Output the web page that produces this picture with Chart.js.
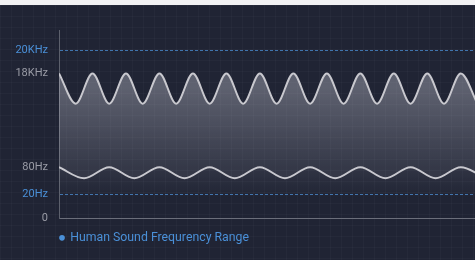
<!DOCTYPE html>
<html>
<head>
<meta charset="utf-8">
<title>Human Sound Frequency Range</title>
<script src="https://cdn.jsdelivr.net/npm/chart.js@4.4.1/dist/chart.umd.min.js"></script>
<style>
  html, body { margin: 0; padding: 0; background: #f2f2f4; }
  #wrap {
    position: absolute; left: 0; top: 5px; width: 475px; height: 255px;
    background-color: #202434;
    background-image:
      linear-gradient(rgba(255,255,255,0.025) 1px, transparent 1px),
      linear-gradient(90deg, rgba(255,255,255,0.025) 1px, transparent 1px);
    background-size: 11px 11px;
  }
</style>
</head>
<body>
<div id="wrap"><canvas id="chart" width="475" height="255"></canvas></div>
<script>
// --- data ---
const seriesName = 'Human Sound Frequrency Range';

// y axis is not linear in Hz, so values are kept in "level" units of the axis
const yTickValues = [0, 24, 51, 144, 167];
const yTickLabels = ['0', '20Hz', '80Hz', '18KHz', '20KHz'];
const limitTicks = [24, 167]; // 20Hz and 20KHz, drawn dashed + blue

// upper curve (around 18KHz) - peaks and troughs
const upperX = [0, 2, 4, 6, 8, 10, 12, 14, 16, 18, 20, 22, 24, 26, 28, 30, 32, 34, 36, 38, 40, 42, 44, 46, 48, 50];
const upperY = [144, 114, 144, 114, 144, 114, 144, 114, 144, 114, 144, 114, 144, 114, 144, 114, 144, 114, 144, 114, 144, 114, 144, 114, 144, 114];

// lower curve (around 80Hz)
const lowerX = [0, 3, 6, 9, 12, 15, 18, 21, 24, 27, 30, 33, 36, 39, 42, 45, 48, 51];
const lowerY = [51, 40, 51, 40, 51, 40, 51, 40, 51, 40, 51, 40, 51, 40, 51, 40, 51, 40];

const BLUE = '#4a90d8';
const GRAY_TEXT = '#9a9ca6';

function toPoints(xs, ys) {
    return xs.map((x, i) => ({ x: x, y: ys[i] }));
}

// gradient fill anchored to axis values
function makeFill(fromVal, toVal, fromAlpha, toAlpha) {
    return function (context) {
        const chart = context.chart;
        if (!chart.chartArea) return 'transparent';
        const y = chart.scales.y;
        const g = chart.ctx.createLinearGradient(0, y.getPixelForValue(fromVal), 0, y.getPixelForValue(toVal));
        g.addColorStop(0, 'rgba(205,206,218,' + fromAlpha + ')');
        g.addColorStop(1, 'rgba(205,206,218,' + toAlpha + ')');
        return g;
    };
}

const ctx = document.getElementById('chart').getContext('2d');
new Chart(ctx, {
    type: 'line',
    data: {
        datasets: [
            {
                label: seriesName,
                data: toPoints(upperX, upperY),
                borderColor: '#c8c8ce',
                borderWidth: 2,
                pointRadius: 0,
                cubicInterpolationMode: 'monotone',
                fill: '+1',
                backgroundColor: makeFill(130, 51, 0.36, 0.12)
            },
            {
                label: 'low',
                data: toPoints(lowerX, lowerY),
                borderColor: '#c8c8ce',
                borderWidth: 2,
                pointRadius: 0,
                cubicInterpolationMode: 'monotone',
                fill: 'origin',
                backgroundColor: makeFill(51, 20, 0.1, 0)
            }
        ]
    },
    options: {
        responsive: false,
        animation: false,
        layout: { padding: { top: 25, left: 0, right: 0, bottom: 6 } },
        scales: {
            x: {
                type: 'linear',
                min: 0,
                max: 49.7,
                ticks: { display: false },
                grid: { display: false, drawTicks: false },
                border: { color: '#6b6e7a', width: 1 },
                afterFit: (scale) => { scale.height = 12; }
            },
            y: {
                min: 0,
                max: 187,
                afterBuildTicks: (scale) => {
                    scale.ticks = yTickValues.map(v => ({ value: v }));
                },
                ticks: {
                    padding: 11,
                    font: { family: 'Roboto', size: 11 },
                    color: (c) => limitTicks.includes(c.tick.value) ? BLUE : GRAY_TEXT,
                    callback: (value, index) => yTickLabels[index]
                },
                grid: {
                    drawTicks: false,
                    lineWidth: 1,
                    color: (c) => (c.tick && limitTicks.includes(c.tick.value)) ? 'rgba(70,130,195,0.85)' : 'transparent'
                },
                border: { color: '#5c606c', width: 1, dash: [3, 2] },
                afterFit: (scale) => { scale.width = 59; }
            }
        },
        plugins: {
            tooltip: { enabled: false },
            legend: {
                position: 'bottom',
                align: 'start',
                fullSize: false,
                labels: {
                    usePointStyle: true,
                    boxWidth: 4,
                    boxHeight: 4,
                    padding: 1,
                    color: BLUE,
                    font: { family: 'Roboto', size: 12.3 },
                    generateLabels: () => [{
                        text: seriesName,
                        fillStyle: BLUE,
                        strokeStyle: BLUE,
                        lineWidth: 0,
                        pointStyle: 'circle',
                        fontColor: BLUE,
                        hidden: false,
                        datasetIndex: 0
                    }]
                }
            }
        }
    }
});
</script>
</body>
</html>
